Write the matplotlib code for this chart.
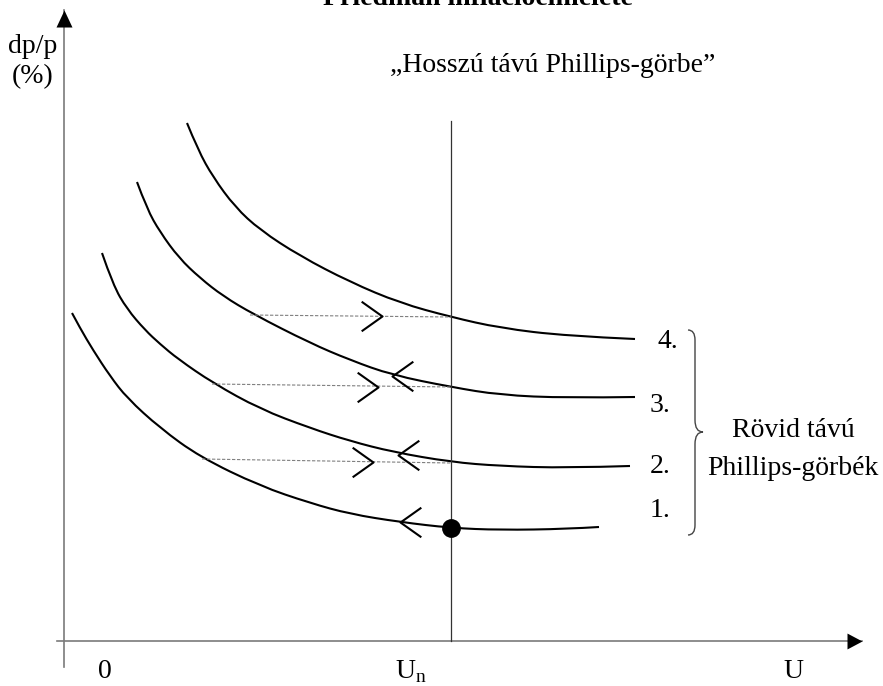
"""
Friedman's view of inflation: short-run Phillips curves shifting up along
the vertical long-run Phillips curve at the natural rate U_n.
"""

import matplotlib
matplotlib.use("Agg")
import matplotlib.pyplot as plt
from matplotlib.path import Path
from matplotlib.patches import PathPatch

plt.rcParams["font.family"] = ["Liberation Serif", "DejaVu Serif"]
plt.rcParams["mathtext.fontset"] = "custom"
plt.rcParams["mathtext.rm"] = "Liberation Serif"

# Short-run Phillips curves (u = unemployment, v = dp/p)
curve1_u = [8, 16, 29, 46, 63, 96, 136, 196, 246, 286, 336, 387, 436, 503, 535]
curve1_v = [328, 313, 291, 265, 243, 213, 184, 155, 138, 127, 119, 113, 111,
            112, 114]
curve2_u = [38, 49, 63, 81, 96, 114, 149, 196, 246, 286, 329, 387, 436, 503, 566]
curve2_v = [388, 356, 332, 311, 297, 282, 258, 232, 213, 200, 189, 179, 175,
            173, 175]
curve3_u = [73, 83, 96, 115, 136, 159, 189, 246, 286, 328, 387, 436, 503, 571]
curve3_v = [459, 432, 409, 383, 363, 345, 327, 298, 281, 266, 254, 246, 243,
            244]
curve4_u = [123, 134, 149, 171, 196, 236, 286, 336, 387, 436, 503, 571]
curve4_v = [518, 491, 464, 434, 411, 385, 359, 338, 324, 313, 305, 302]
curve_labels = ["1.", "2.", "3.", "4."]
label_u = [586, 586, 586, 594]
label_v = [124, 168, 229, 293]

# long-run (vertical) Phillips curve at the natural rate
u_natural = 387
lrpc_top = 520
start_u, start_v = 387, 113  # starting equilibrium on curve 1

# expectation-adjustment paths (dotted), from the lower curve to the next one
path_u0 = [138, 148, 186]
path_v0 = [182, 257, 326]
path_v1 = [178, 254, 324]

# chevrons: moves right along the dotted paths, back left along the curves
right_u = [309, 314, 318]
right_v = [179, 254, 325]
left_u = [336, 334, 328]
left_v = [119, 186, 265]


def smooth_path(us, vs):
    # quadratic B-spline path: read points act as control points
    pts = list(zip(us, vs))
    verts = [pts[0]]
    codes = [Path.MOVETO]
    for i in range(1, len(pts) - 1):
        nxt = pts[i + 1] if i == len(pts) - 2 else (
            (pts[i][0] + pts[i + 1][0]) / 2, (pts[i][1] + pts[i + 1][1]) / 2)
        verts += [pts[i], nxt]
        codes += [Path.CURVE3, Path.CURVE3]
    return Path(verts, codes)


fig = plt.figure(figsize=(8.83, 6.86), dpi=100)
ax = fig.add_axes([0, 0, 1, 1])
ax.set_xlim(-64, 819)
ax.set_ylim(-45, 641)
ax.axis("off")

# axes with arrow heads
ax.plot([-7, 798], [0, 0], color="#7a7a7a", lw=1.2)
ax.plot([0, 0], [-26, 631], color="#7a7a7a", lw=1.2)
head_right = [(0, 0), (-1, 0.53), (-1, -0.53), (0, 0)]
head_up = [(0, 0), (-0.47, -1), (0.47, -1), (0, 0)]
ax.plot([798], [0], marker=head_right, ms=21.6, color="black", mew=0)
ax.plot([0], [631], marker=head_up, ms=24.5, color="black", mew=0)

# long-run Phillips curve
ax.plot([u_natural, u_natural], [0, lrpc_top], color="#333333", lw=0.9)

for u, v in [(curve1_u, curve1_v), (curve2_u, curve2_v),
             (curve3_u, curve3_v), (curve4_u, curve4_v)]:
    ax.add_patch(PathPatch(smooth_path(u, v), fc="none", ec="black",
                           lw=1.5, capstyle="butt"))

for u0, v0, v1 in zip(path_u0, path_v0, path_v1):
    ax.plot([u0, u_natural], [v0, v1], color="#808080", lw=0.8,
            dashes=(3, 1.5))

chev_right = [(-1, 0.71), (0, 0), (-1, -0.71)]
chev_left = [(1, 0.71), (0, 0), (1, -0.71)]
ax.plot(right_u, right_v, ls="none", marker=chev_right, ms=30, mfc="none",
        mec="black", mew=1.5)
ax.plot(left_u, left_v, ls="none", marker=chev_left, ms=30, mfc="none",
        mec="black", mew=1.5)

ax.plot([start_u], [start_v], marker="o", ms=12.5, color="black", zorder=5)

# brace grouping the short-run curves
brace = Path(
    [(624, 311), (631, 311), (631, 301), (631, 221), (631, 209), (639, 209),
     (631, 209), (631, 197), (631, 116), (631, 106), (624, 106)],
    [Path.MOVETO, Path.CURVE3, Path.CURVE3, Path.LINETO, Path.CURVE3,
     Path.CURVE3, Path.CURVE3, Path.CURVE3, Path.LINETO, Path.CURVE3,
     Path.CURVE3])
ax.add_patch(PathPatch(brace, fc="none", ec="#444444", lw=1.0))

fs = 20
for lab, u, v in zip(curve_labels, label_u, label_v):
    ax.text(u, v, lab, fontsize=fs, ha="left", va="baseline")

ax.text(729, 204, "Rövid távú", fontsize=fs, ha="center", va="baseline")
ax.text(729, 166, "Phillips-görbék", fontsize=fs, ha="center", va="baseline")
ax.text(326, 569, "„Hosszú távú Phillips-görbe”", fontsize=fs,
        ha="left", va="baseline")
# title sits partly above the top edge, as in the source scan
ax.text(414, 636, "Friedman inflációelmélete", fontsize=fs,
        fontweight="bold", ha="center", va="baseline")
ax.text(-31, 588, "dp/p", fontsize=fs, ha="center", va="baseline")
ax.text(-31, 558, "(%)", fontsize=fs, ha="center", va="baseline")
ax.text(41, -37, "0", fontsize=fs, ha="center", va="baseline")
ax.text(347, -37, r"U$_{\mathrm{n}}$", fontsize=fs, ha="center",
        va="baseline")
ax.text(729, -37, "U", fontsize=fs, ha="center", va="baseline")

fig.savefig("out.png", dpi=100)
